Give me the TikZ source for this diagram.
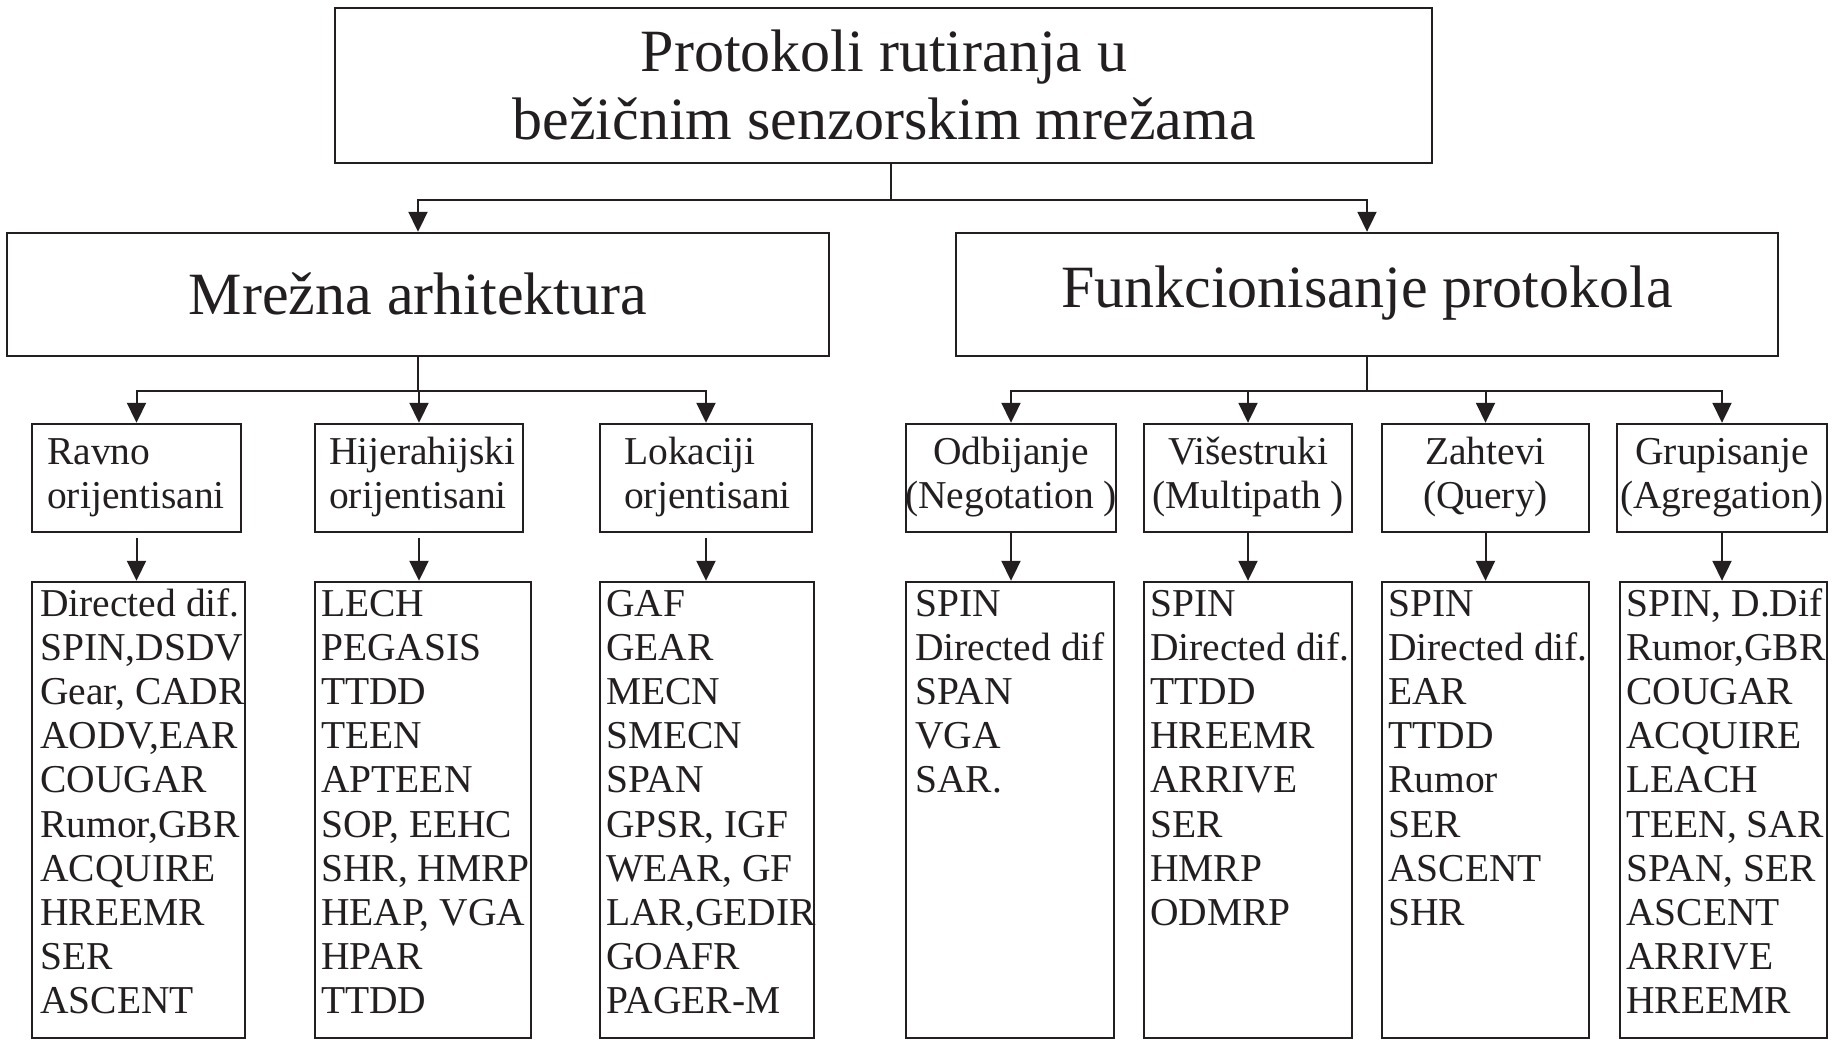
\documentclass[tikz,border=0pt]{standalone}
\usepackage{fontspec}
\setmainfont{Liberation Serif}
\usetikzlibrary{arrows.meta}
\definecolor{ink}{RGB}{35,31,32}

% one column of protocol names, one line every 44.2pt
\newcommand\colitems[3]{%
  \foreach \t [count=\i from 0] in {#3}
    \node[smalltext, anchor=base west] (#1-t\i) at (#2,{616+44.2*\i}) {\t};%
}

\begin{document}
\begin{tikzpicture}[x=1pt,y=-1pt,
  box/.style={draw=ink, line width=2.4pt, inner sep=0pt, rectangle},
  link/.style={draw=ink, line width=2pt},
  arr/.style={link, -{Triangle[width=19pt,length=20pt]}},
  bigtext/.style={font=\fontsize{60}{68}\selectfont, text=ink, inner sep=0pt},
  smalltext/.style={font=\fontsize{39.5}{44}\selectfont, text=ink, inner sep=0pt},
]
\fill[white] (0,0) rectangle (1835,1040);
\useasboundingbox (0,0) rectangle (1835,1040);

% root
\node[box, minimum width=1097pt, minimum height=155pt] (top) at (883.5,85.5) {};
\node[bigtext, anchor=base] (top-l1) at (884,72) {Protokoli rutiranja u};
\node[bigtext, anchor=base] (top-l2) at (884,140) {bežičnim senzorskim mrežama};

% second level
\node[box, minimum width=822pt, minimum height=123pt] (mA) at (418,294.5) {};
\node[box, minimum width=822pt, minimum height=123pt] (mB) at (1367,294.5) {};
\node[bigtext, anchor=base] (mA-l) at (418,315) {Mrežna arhitektura};
\node[bigtext, anchor=base] (mB-l) at (1367,308) {Funkcionisanje protokola};

% third level
\node[box, minimum width=209pt, minimum height=108pt] (s1) at (136.5,478) {};
\node[box, minimum width=208pt, minimum height=108pt] (s2) at (419,478) {};
\node[box, minimum width=212pt, minimum height=108pt] (s3) at (706,478) {};
\node[box, minimum width=210pt, minimum height=108pt] (s4) at (1011,478) {};
\node[box, minimum width=208pt, minimum height=108pt] (s5) at (1248,478) {};
\node[box, minimum width=207pt, minimum height=108pt] (s6) at (1485.5,478) {};
\node[box, minimum width=210pt, minimum height=108pt] (s7) at (1722,478) {};

\node[smalltext, anchor=base west] (s1-a) at (47,464) {Ravno};
\node[smalltext, anchor=base west] (s1-b) at (47,508) {orijentisani};
\node[smalltext, anchor=base west] (s2-a) at (329,464) {Hijerahijski};
\node[smalltext, anchor=base west] (s2-b) at (329,508) {orijentisani};
\node[smalltext, anchor=base west] (s3-a) at (624,464) {Lokaciji};
\node[smalltext, anchor=base west] (s3-b) at (624,508) {orjentisani};
\node[smalltext, anchor=base] (s4-a) at (1011,464) {Odbijanje};
\node[smalltext, anchor=base] (s4-b) at (1011,508) {(Negotation )};
\node[smalltext, anchor=base] (s5-a) at (1248,464) {Višestruki};
\node[smalltext, anchor=base] (s5-b) at (1248,508) {(Multipath )};
\node[smalltext, anchor=base] (s6-a) at (1485.5,464) {Zahtevi};
\node[smalltext, anchor=base] (s6-b) at (1485.5,508) {(Query)};
\node[smalltext, anchor=base] (s7-a) at (1722,464) {Grupisanje};
\node[smalltext, anchor=base] (s7-b) at (1722,508) {(Agregation)};

% protocol lists
\node[box, minimum width=213pt, minimum height=456pt] (l1) at (138.5,810) {};
\node[box, minimum width=216pt, minimum height=456pt] (l2) at (423,810) {};
\node[box, minimum width=214pt, minimum height=456pt] (l3) at (707,810) {};
\node[box, minimum width=208pt, minimum height=456pt] (l4) at (1010,810) {};
\node[box, minimum width=208pt, minimum height=456pt] (l5) at (1248,810) {};
\node[box, minimum width=207pt, minimum height=456pt] (l6) at (1485.5,810) {};
\node[box, minimum width=207pt, minimum height=456pt] (l7) at (1723.5,810) {};

\colitems{l1}{40}{Directed dif.,{SPIN,DSDV},{Gear, CADR},{AODV,EAR},COUGAR,{Rumor,GBR},ACQUIRE,HREEMR,SER,ASCENT}
\colitems{l2}{321}{LECH,PEGASIS,TTDD,TEEN,APTEEN,{SOP, EEHC},{SHR, HMRP},{HEAP, VGA},HPAR,TTDD}
\colitems{l3}{606}{GAF,GEAR,MECN,SMECN,SPAN,{GPSR, IGF},{WEAR, GF},{LAR,GEDIR},GOAFR,PAGER-M}
\colitems{l4}{915}{SPIN,Directed dif,SPAN,VGA,SAR.}
\colitems{l5}{1150}{SPIN,Directed dif.,TTDD,HREEMR,ARRIVE,SER,HMRP,ODMRP}
\colitems{l6}{1388}{SPIN,Directed dif.,EAR,TTDD,Rumor,SER,ASCENT,SHR}
\colitems{l7}{1626}{{SPIN, D.Dif},{Rumor,GBR},COUGAR,ACQUIRE,LEACH,{TEEN, SAR},{SPAN, SER},ASCENT,ARRIVE,HREEMR}

% connectors
\coordinate (j0) at (891,200);
\draw[link] (top.south -| j0) -- (j0);
\draw[arr] (j0) -| (mA.north);
\draw[arr] (j0) -| (mB.north);

\coordinate (jA) at (418,391);
\draw[link] (mA.south) -- (jA);
\foreach \s in {s1,s2,s3} \draw[arr] (jA) -| (\s.north);

\coordinate (jB) at (1367,391);
\draw[link] (mB.south) -- (jB);
\foreach \s in {s4,s5,s6,s7} \draw[arr] (jB) -| (\s.north);

\foreach \s/\l in {s1/l1,s2/l2,s3/l3}
  \draw[arr, shorten <=5pt] (\s.south) -- (\s.south |- \l.north);
\foreach \s/\l in {s4/l4,s5/l5,s6/l6,s7/l7}
  \draw[arr] (\s.south) -- (\s.south |- \l.north);
\end{tikzpicture}
\end{document}
